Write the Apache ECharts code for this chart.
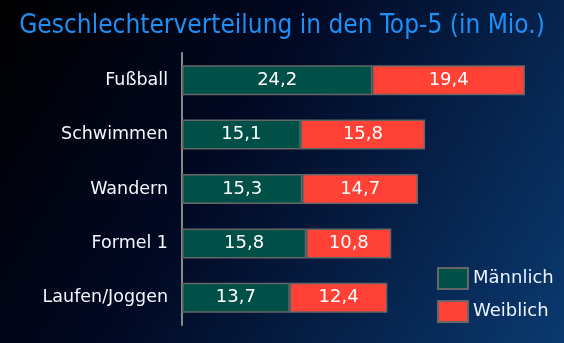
<!DOCTYPE html>
<html><head><meta charset="utf-8">
<script src="https://cdn.jsdelivr.net/npm/echarts@6/dist/echarts.min.js"></script>
<style>html,body{margin:0;padding:0;background:#000}#c{width:564px;height:343px}</style>
</head><body><div id="c"></div>
<script>
var categories = ['Fußball','Schwimmen','Wandern','Formel 1','Laufen/Joggen'];
var maennlich = [24.2, 15.1, 15.3, 15.8, 13.7];
var weiblich = [19.4, 15.8, 14.7, 10.8, 12.4];
var seriesNames = ['Männlich','Weiblich'];
var chart = echarts.init(document.getElementById('c'));
var lbl = {show:true, position:'inside', color:'#fff', fontSize:18, fontFamily:'DejaVu Sans',
  formatter:function(p){return p.value.toFixed(1).replace('.',',');}};
chart.setOption({
  backgroundColor:{type:'linear',x:0,y:0,x2:1,y2:1,colorStops:[
    {offset:0,color:'#000000'},{offset:0.4,color:'#010822'},{offset:1,color:'#0a3a70'}]},
  title:{text:'Geschlechterverteilung in den Top-5 (in Mio.)',left:'center',top:8,
    textStyle:{color:'#1e90f5',fontSize:26,fontWeight:'normal',fontFamily:'DejaVu Sans Condensed'}},
  legend:{orient:'vertical',left:432,top:262,itemWidth:30,itemHeight:21,itemGap:10,
    icon:'rect',
    textStyle:{color:'#eef4ff',fontSize:18,fontFamily:'DejaVu Sans'},
    data:seriesNames},
  grid:{left:182,right:28,top:53,bottom:18},
  xAxis:{type:'value',min:0,max:45,show:false},
  yAxis:{type:'category',data:categories,inverse:true,
    axisLine:{show:true,lineStyle:{color:'#888',width:2}},axisTick:{show:false},
    axisLabel:{color:'#f4f8ff',fontSize:17.5,fontFamily:'DejaVu Sans',margin:14}},
  series:[
    {name:seriesNames[0],type:'bar',stack:'a',data:maennlich,barWidth:30,
     itemStyle:{color:'#005048',borderColor:'#666',borderWidth:1.5},label:lbl},
    {name:seriesNames[1],type:'bar',stack:'a',data:weiblich,barWidth:30,
     itemStyle:{color:'#ff4136',borderColor:'#666',borderWidth:1.5},label:lbl}
  ]
});
</script></body></html>
